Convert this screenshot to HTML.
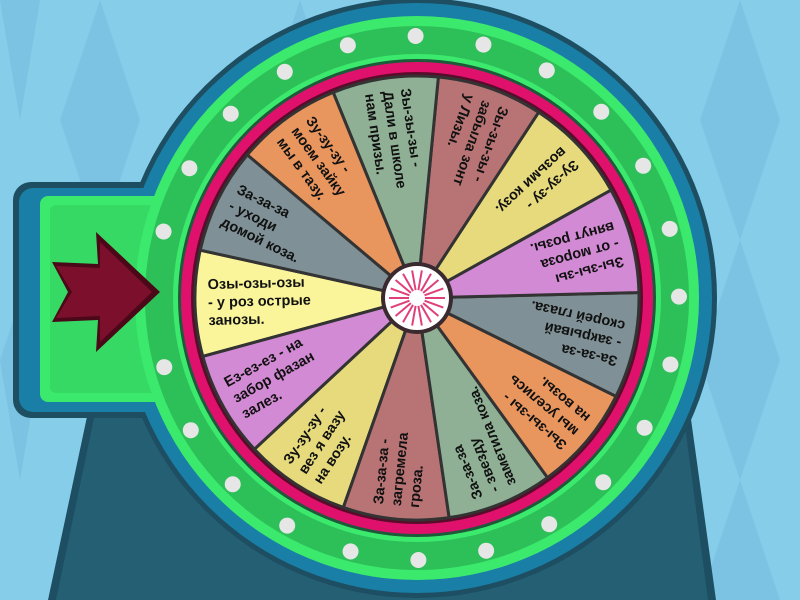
<!DOCTYPE html>
<html><head><meta charset="utf-8"><style>
body{margin:0;width:800px;height:600px;overflow:hidden;background:#86cdea;position:relative;font-family:"Liberation Sans","DejaVu Sans",sans-serif}
svg{position:absolute;left:0;top:0}
.t{position:absolute;left:417px;top:298px;width:0;height:0}
.t div{position:absolute;left:-209px;top:-30px;width:165px;height:60px;display:flex;flex-direction:column;justify-content:center;font-weight:bold;font-size:14.5px;line-height:18px;color:#111;white-space:nowrap}
</style></head><body>
<svg width="800" height="600" viewBox="0 0 800 600">
<g fill="#7cc2e2">
<polygon points="0,0 40,0 20,120"/><polygon points="60,120 100,0 140,120 100,240"/><polygon points="260,120 300,0 340,120 300,240"/>
<polygon points="700,120 740,0 780,120 740,240"/><polygon points="700,360 740,240 780,360 740,480"/><polygon points="700,600 740,480 780,600"/>
<polygon points="0,360 20,300 40,360 20,480"/>
</g>
<polygon points="88,412 690,412 716,600 48,600" fill="#1d4e62"/>
<polygon points="94,418 684,418 708,600 56,600" fill="#255f74"/>
<rect x="13" y="182" width="200" height="236" rx="18" fill="#1d4e62"/>
<circle cx="417" cy="298" r="300" fill="#1d4e62"/>
<rect x="19" y="188" width="190" height="224" rx="14" fill="#1a7fa6"/>
<circle cx="417" cy="298" r="295" fill="#1a7fa6"/>
<rect x="40" y="196" width="170" height="206" rx="8" fill="#3be96d"/>
<rect x="50" y="205" width="150" height="188" rx="6" fill="#35d964"/>
<circle cx="417" cy="298" r="282" fill="#3be96d"/>
<circle cx="417" cy="298" r="272" fill="#2dbf58"/>
<circle cx="417" cy="298" r="244" fill="#3be96d"/>
<circle cx="417" cy="298" r="239" fill="#1d5a3a"/>
<circle cx="417" cy="298" r="236" fill="#e0116c"/>
<circle cx="417" cy="298" r="226" fill="#5a0c2a"/>
<g fill="#e6e6e6">
<circle cx="155" cy="299.4" r="8" transform="rotate(15 417 298)"/>
<circle cx="155" cy="299.4" r="8" transform="rotate(30 417 298)"/>
<circle cx="155" cy="299.4" r="8" transform="rotate(45 417 298)"/>
<circle cx="155" cy="299.4" r="8" transform="rotate(60 417 298)"/>
<circle cx="155" cy="299.4" r="8" transform="rotate(75 417 298)"/>
<circle cx="155" cy="299.4" r="8" transform="rotate(90 417 298)"/>
<circle cx="155" cy="299.4" r="8" transform="rotate(105 417 298)"/>
<circle cx="155" cy="299.4" r="8" transform="rotate(120 417 298)"/>
<circle cx="155" cy="299.4" r="8" transform="rotate(135 417 298)"/>
<circle cx="155" cy="299.4" r="8" transform="rotate(150 417 298)"/>
<circle cx="155" cy="299.4" r="8" transform="rotate(165 417 298)"/>
<circle cx="155" cy="299.4" r="8" transform="rotate(180 417 298)"/>
<circle cx="155" cy="299.4" r="8" transform="rotate(195 417 298)"/>
<circle cx="155" cy="299.4" r="8" transform="rotate(210 417 298)"/>
<circle cx="155" cy="299.4" r="8" transform="rotate(225 417 298)"/>
<circle cx="155" cy="299.4" r="8" transform="rotate(240 417 298)"/>
<circle cx="155" cy="299.4" r="8" transform="rotate(255 417 298)"/>
<circle cx="155" cy="299.4" r="8" transform="rotate(270 417 298)"/>
<circle cx="155" cy="299.4" r="8" transform="rotate(285 417 298)"/>
<circle cx="155" cy="299.4" r="8" transform="rotate(300 417 298)"/>
<circle cx="155" cy="299.4" r="8" transform="rotate(315 417 298)"/>
<circle cx="155" cy="299.4" r="8" transform="rotate(330 417 298)"/>
<circle cx="155" cy="299.4" r="8" transform="rotate(345 417 298)"/>
</g>
<defs><path id="w" d="M0,0 L215.55,-53.13 A222,222 0 0 1 215.55,53.13 Z"/></defs>
<g transform="translate(417 298)" stroke="#333" stroke-width="3">
<use href="#w" fill="#faf59a" transform="rotate(178.6)"/>
<use href="#w" fill="#d38ad4" transform="rotate(150.91)"/>
<use href="#w" fill="#e6da7c" transform="rotate(123.22)"/>
<use href="#w" fill="#b87474" transform="rotate(95.52)"/>
<use href="#w" fill="#8fb095" transform="rotate(67.83)"/>
<use href="#w" fill="#e8955e" transform="rotate(40.14)"/>
<use href="#w" fill="#7f9196" transform="rotate(12.45)"/>
<use href="#w" fill="#d38ad4" transform="rotate(-15.25)"/>
<use href="#w" fill="#e6da7c" transform="rotate(-42.94)"/>
<use href="#w" fill="#b87474" transform="rotate(-70.63)"/>
<use href="#w" fill="#8fb095" transform="rotate(-98.32)"/>
<use href="#w" fill="#e8955e" transform="rotate(-126.02)"/>
<use href="#w" fill="#7f9196" transform="rotate(-153.71)"/>
</g>
<circle cx="417" cy="298" r="36" fill="#3a2a30"/>
<circle cx="417" cy="298" r="32" fill="#fff"/>
<g stroke="#e0407a" stroke-width="2" transform="translate(417 298)">
<line x1="8" y1="0" x2="28" y2="0"/><line x1="8" y1="0" x2="28" y2="0" transform="rotate(20)"/><line x1="8" y1="0" x2="28" y2="0" transform="rotate(40)"/><line x1="8" y1="0" x2="28" y2="0" transform="rotate(60)"/><line x1="8" y1="0" x2="28" y2="0" transform="rotate(80)"/><line x1="8" y1="0" x2="28" y2="0" transform="rotate(100)"/><line x1="8" y1="0" x2="28" y2="0" transform="rotate(120)"/><line x1="8" y1="0" x2="28" y2="0" transform="rotate(140)"/><line x1="8" y1="0" x2="28" y2="0" transform="rotate(160)"/><line x1="8" y1="0" x2="28" y2="0" transform="rotate(180)"/><line x1="8" y1="0" x2="28" y2="0" transform="rotate(200)"/><line x1="8" y1="0" x2="28" y2="0" transform="rotate(220)"/><line x1="8" y1="0" x2="28" y2="0" transform="rotate(240)"/><line x1="8" y1="0" x2="28" y2="0" transform="rotate(260)"/><line x1="8" y1="0" x2="28" y2="0" transform="rotate(280)"/><line x1="8" y1="0" x2="28" y2="0" transform="rotate(300)"/><line x1="8" y1="0" x2="28" y2="0" transform="rotate(320)"/><line x1="8" y1="0" x2="28" y2="0" transform="rotate(340)"/>
</g>
<polygon points="52,262 98,264 96,232 160,292 96,352 98,320 52,322 68,292" fill="#4a0818"/>
<polygon points="56,266 100,268 100,242 152,292 100,342 100,316 56,318 72,292" fill="#7c0f2c"/>
</svg>
<div class="t" style="transform:rotate(358.6deg)"><div>Озы-озы-озы<br>- у роз острые<br>занозы.</div></div>
<div class="t" style="transform:rotate(330.91deg)"><div>Ез-ез-ез - на<br>забор фазан<br>залез.</div></div>
<div class="t" style="transform:rotate(303.22deg)"><div>Зу-зу-зу -<br>вез я вазу<br>на возу.</div></div>
<div class="t" style="transform:rotate(275.52deg)"><div>За-за-за -<br>загремела<br>гроза.</div></div>
<div class="t" style="transform:rotate(247.83deg)"><div>За-за-за<br>- звезду<br>заметила коза.</div></div>
<div class="t" style="transform:rotate(220.14deg)"><div>Зы-зы-зы -<br>мы уселись<br>на возы.</div></div>
<div class="t" style="transform:rotate(192.45deg)"><div>За-за-за<br>- закрывай<br>скорей глаза.</div></div>
<div class="t" style="transform:rotate(164.75deg)"><div>Зы-зы-зы<br>- от мороза<br>вянут розы.</div></div>
<div class="t" style="transform:rotate(137.06deg)"><div>Зу-зу-зу -<br>возьми козу.</div></div>
<div class="t" style="transform:rotate(109.37deg)"><div>Зы-зы-зы -<br>забыла зонт<br>у Лизы.</div></div>
<div class="t" style="transform:rotate(81.68deg)"><div>Зы-зы-зы -<br>Дали в школе<br>нам призы.</div></div>
<div class="t" style="transform:rotate(53.98deg)"><div>Зу-зу-зу -<br>моем зайку<br>мы в тазу.</div></div>
<div class="t" style="transform:rotate(26.29deg)"><div>За-за-за<br>- уходи<br>домой коза.</div></div>
</body></html>
